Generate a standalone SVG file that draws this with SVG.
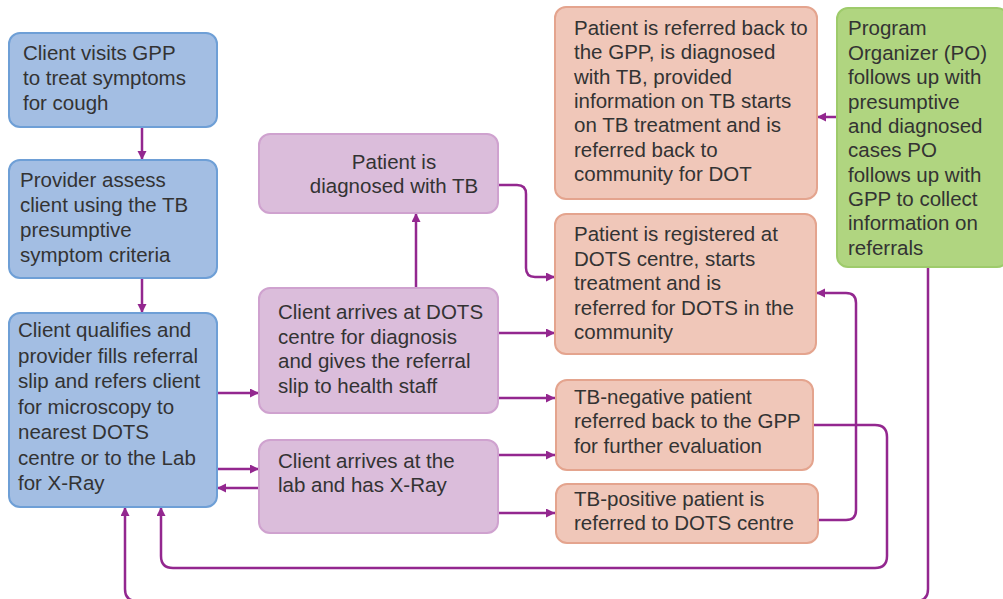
<svg xmlns="http://www.w3.org/2000/svg" width="1003" height="599" viewBox="0 0 1003 599">
  <style>
    text { font-family: "Liberation Sans", Arial, sans-serif; font-size: 20.5px; fill: #333333; }
    .box { stroke-width: 2; }
    .blue { fill: #a3bee3; stroke: #6e9fd6; }
    .purple { fill: #dbbddb; stroke: #cfa2cf; }
    .orange { fill: #f0c7b9; stroke: #e4a48e; }
    .green { fill: #b0d580; stroke: #9ecb6b; }
    .link { fill: none; stroke: #93278f; stroke-width: 2.5; }
    .arrow { marker-end: url(#head); }
  </style>
  <defs>
    <marker id="head" markerUnits="userSpaceOnUse" markerWidth="10" markerHeight="10" refX="9" refY="4.5" orient="auto">
      <path d="M0,0 L9,4.5 L0,9 z" fill="#93278f"/>
    </marker>
  </defs>

  <rect width="1003" height="599" fill="#ffffff"/>

  <!-- connectors -->
  <g id="connectors">
    <path class="link arrow" d="M142,127 V160"/>
    <path class="link arrow" d="M142,278 V313"/>
    <path class="link arrow" d="M217,393 H259"/>
    <path class="link arrow" d="M217,469 H259"/>
    <path class="link arrow" d="M259,488 H217"/>
    <path class="link arrow" d="M416,288 V213"/>
    <path class="link arrow" d="M498,185 H517 Q526,185 526,194 V268 Q526,277 535,277 H555"/>
    <path class="link arrow" d="M498,333 H555"/>
    <path class="link arrow" d="M498,398 H555"/>
    <path class="link arrow" d="M498,455 H555"/>
    <path class="link arrow" d="M498,513 H555"/>
    <path class="link arrow" d="M818,520 H846 Q856,520 856,510 V303 Q856,293 846,293 H816"/>
    <path class="link arrow" d="M813,425 H875 Q887,425 887,437 V556 Q887,568 875,568 H173 Q161,568 161,556 V507"/>
    <path class="link arrow" d="M928,267 V589 Q928,601 916,601 H137 Q125,601 125,589 V507"/>
    <path class="link arrow" d="M837,117 H817"/>
  </g>

  <!-- GPP side -->
  <g id="visit">
    <rect class="box blue" x="9" y="33" width="208" height="94" rx="11"/>
    <text x="23" y="60">Client visits GPP</text>
    <text x="23" y="85">to treat symptoms</text>
    <text x="23" y="110">for cough</text>
  </g>
  <g id="assess">
    <rect class="box blue" x="9" y="160" width="208" height="118" rx="11"/>
    <text x="20" y="187">Provider assess</text>
    <text x="20" y="212">client using the TB</text>
    <text x="20" y="237">presumptive</text>
    <text x="20" y="262">symptom criteria</text>
  </g>
  <g id="refer">
    <rect class="box blue" x="9" y="313" width="208" height="194" rx="11"/>
    <text x="18" y="337">Client qualifies and</text>
    <text x="18" y="362.5">provider fills referral</text>
    <text x="18" y="388">slip and refers client</text>
    <text x="18" y="414">for microscopy to</text>
    <text x="18" y="439">nearest DOTS</text>
    <text x="18" y="465">centre or to the Lab</text>
    <text x="18" y="490">for X-Ray</text>
  </g>

  <!-- DOTS centre and lab -->
  <g id="diagnosed">
    <rect class="box purple" x="259" y="134" width="239" height="79" rx="11"/>
    <text x="394" y="169" text-anchor="middle">Patient is</text>
    <text x="394" y="193" text-anchor="middle">diagnosed with TB</text>
  </g>
  <g id="arrives-dots">
    <rect class="box purple" x="259" y="288" width="239" height="125" rx="11"/>
    <text x="278" y="319">Client arrives at DOTS</text>
    <text x="278" y="343.5">centre for diagnosis</text>
    <text x="278" y="368">and gives the referral</text>
    <text x="278" y="392.5">slip to health staff</text>
  </g>
  <g id="arrives-lab">
    <rect class="box purple" x="259" y="440" width="239" height="93" rx="11"/>
    <text x="278" y="468">Client arrives at the</text>
    <text x="278" y="492">lab and has X-Ray</text>
  </g>

  <!-- outcomes -->
  <g id="back-to-gpp">
    <rect class="box orange" x="555" y="7" width="262" height="192" rx="11"/>
    <text x="574" y="35">Patient is referred back to</text>
    <text x="574" y="59">the GPP, is diagnosed</text>
    <text x="574" y="83.5">with TB, provided</text>
    <text x="574" y="108">information on TB starts</text>
    <text x="574" y="132">on TB treatment and is</text>
    <text x="574" y="156.5">referred back to</text>
    <text x="574" y="181">community for DOT</text>
  </g>
  <g id="registered">
    <rect class="box orange" x="555" y="214" width="261" height="140" rx="11"/>
    <text x="574" y="241">Patient is registered at</text>
    <text x="574" y="265.5">DOTS centre, starts</text>
    <text x="574" y="290">treatment and is</text>
    <text x="574" y="314.5">referred for DOTS in the</text>
    <text x="574" y="339">community</text>
  </g>
  <g id="tb-negative">
    <rect class="box orange" x="556" y="380" width="257" height="90" rx="11"/>
    <text x="574" y="403.5">TB-negative patient</text>
    <text x="574" y="428">referred back to the GPP</text>
    <text x="574" y="452.5">for further evaluation</text>
  </g>
  <g id="tb-positive">
    <rect class="box orange" x="556" y="484" width="262" height="59" rx="11"/>
    <text x="574" y="505.5">TB-positive patient is</text>
    <text x="574" y="530">referred to DOTS centre</text>
  </g>

  <!-- programme organizer -->
  <g id="organizer">
    <rect class="box green" x="837" y="8" width="171" height="259" rx="11"/>
    <text x="848" y="35">Program</text>
    <text x="848" y="59.5">Organizer (PO)</text>
    <text x="848" y="84">follows up with</text>
    <text x="848" y="108.5">presumptive</text>
    <text x="848" y="133">and diagnosed</text>
    <text x="848" y="157">cases PO</text>
    <text x="848" y="181.5">follows up with</text>
    <text x="848" y="206">GPP to collect</text>
    <text x="848" y="230">information on</text>
    <text x="848" y="254.5">referrals</text>
  </g>
</svg>
